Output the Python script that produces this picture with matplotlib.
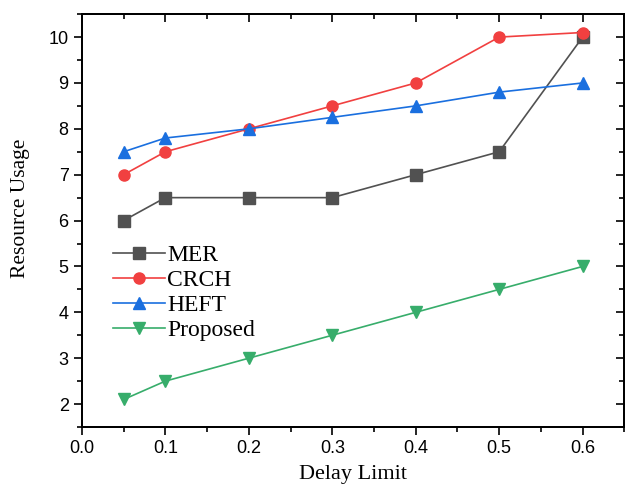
import matplotlib
matplotlib.use("Agg")
import matplotlib.pyplot as plt
from matplotlib.ticker import MultipleLocator

# --------------------------------------------------
# data
# --------------------------------------------------
delay = [0.05, 0.1, 0.2, 0.3, 0.4, 0.5, 0.6]
mer = [6.0, 6.5, 6.5, 6.5, 7.0, 7.5, 10.0]
crch = [7.0, 7.5, 8.0, 8.5, 9.0, 10.0, 10.1]
heft = [7.5, 7.8, 8.0, 8.25, 8.5, 8.8, 9.0]
proposed = [2.1, 2.5, 3.0, 3.5, 4.0, 4.5, 5.0]

labels = ["MER", "CRCH", "HEFT", "Proposed"]
colors = ["#515151", "#F14040", "#1A6FDF", "#37AD6B"]
markers = ["s", "o", "^", "v"]

serif = ["Liberation Serif", "DejaVu Serif"]
sans = ["Liberation Sans", "DejaVu Sans"]

fig = plt.figure(figsize=(6.25, 4.88), dpi=100)
ax = fig.add_axes([0.131, 0.125, 0.868, 0.846])

for ys, lab, c, m in zip([mer, crch, heft, proposed], labels, colors, markers):
    ax.plot(delay, ys, color=c, marker=m, markersize=8, linewidth=1.2, label=lab)

ax.set_xlim(0.0, 0.65)
ax.set_ylim(1.5, 10.5)
ax.xaxis.set_major_locator(MultipleLocator(0.1))
ax.xaxis.set_minor_locator(MultipleLocator(0.05))
ax.yaxis.set_major_locator(MultipleLocator(1))
ax.yaxis.set_minor_locator(MultipleLocator(0.5))
ax.set_xticks([0.0, 0.1, 0.2, 0.3, 0.4, 0.5, 0.6])
ax.set_xticklabels(["0.0", "0.1", "0.2", "0.3", "0.4", "0.5", "0.6"])

# left/bottom ticks out, mirrored ticks on top/right pointing in
ax.tick_params(which="both", direction="out", width=1.2, labelsize=13)
ax.tick_params(which="major", length=6)
ax.tick_params(which="minor", length=3.5)
for t in ax.get_xticklabels() + ax.get_yticklabels():
    t.set_family(sans)

ax2 = ax.twinx()
ax2.set_ylim(ax.get_ylim())
ax2.yaxis.set_major_locator(MultipleLocator(1))
ax2.yaxis.set_minor_locator(MultipleLocator(0.5))
ax2.tick_params(which="both", direction="in", width=1.2, labelright=False)
ax2.tick_params(which="major", length=6)
ax2.tick_params(which="minor", length=3.5)
ax3 = ax.twiny()
ax3.set_xlim(ax.get_xlim())
ax3.xaxis.set_major_locator(MultipleLocator(0.1))
ax3.xaxis.set_minor_locator(MultipleLocator(0.05))
ax3.tick_params(which="both", direction="in", width=1.2, labeltop=False)
ax3.tick_params(which="major", length=6)
ax3.tick_params(which="minor", length=3.5)

for a in (ax, ax2, ax3):
    for s in a.spines.values():
        s.set_linewidth(1.2)

ax.set_xlabel("Delay Limit", family=serif, fontsize=16)
ax.set_ylabel("Resource Usage", family=serif, fontsize=15.5)
ax.xaxis.set_label_coords(0.5, -0.093)
ax.yaxis.set_label_coords(-0.095, 0.53)

ax.legend(loc="upper left", bbox_to_anchor=(0.04, 0.465), frameon=False,
          prop={"family": serif, "size": 17}, handlelength=2.2,
          labelspacing=0.15, handletextpad=0.1, borderaxespad=0)

fig.savefig("out.png", dpi=100)
